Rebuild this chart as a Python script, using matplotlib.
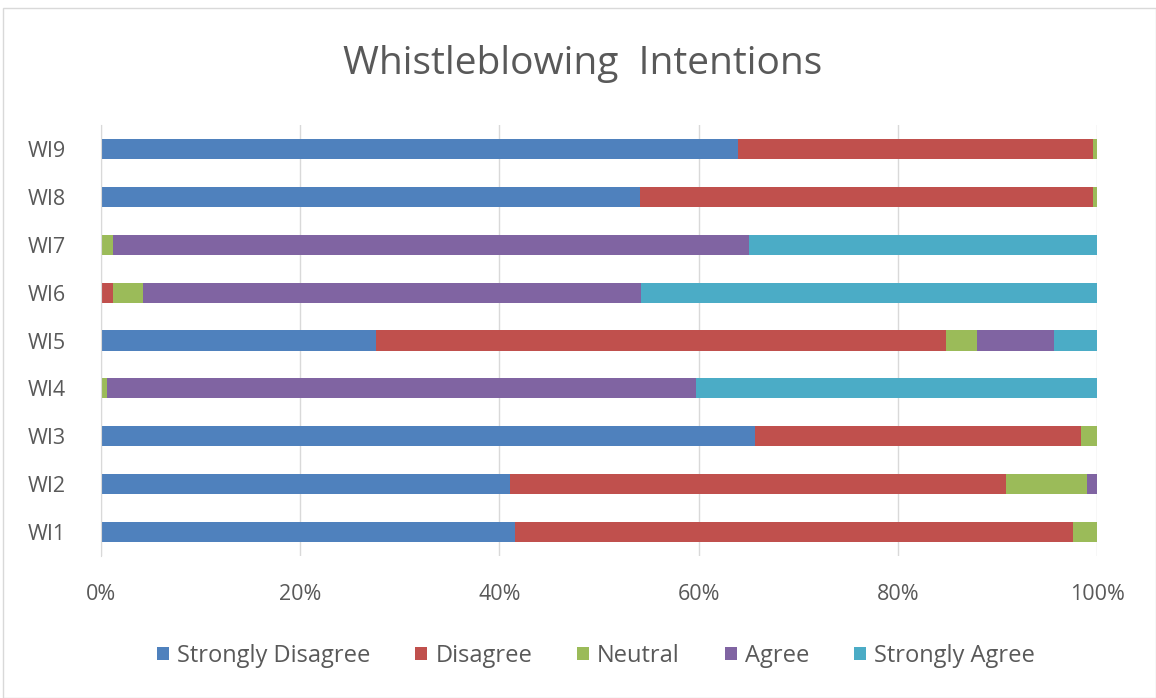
import numpy as np
import matplotlib.pyplot as plt
from matplotlib.patches import Rectangle

plt.rcParams['font.family'] = ['Open Sans', 'DejaVu Sans']

items = ['WI1', 'WI2', 'WI3', 'WI4', 'WI5', 'WI6', 'WI7', 'WI8', 'WI9']
categories = ['Strongly Disagree', 'Disagree', 'Neutral', 'Agree', 'Strongly Agree']
colors = ['#4F81BD', '#C0504D', '#9BBB59', '#8064A2', '#4BACC6']

# percent of responses per item, WI1..WI9
strongly_disagree = [41.6, 41.1, 65.7, 0.0, 27.6, 0.0, 0.0, 54.1, 64.0]
disagree = [56.0, 49.8, 32.7, 0.0, 57.2, 1.2, 0.0, 45.5, 35.6]
neutral = [2.4, 8.1, 1.6, 0.6, 3.1, 3.0, 1.2, 0.4, 0.4]
agree = [0.0, 1.0, 0.0, 59.1, 7.8, 50.0, 63.9, 0.0, 0.0]
strongly_agree = [0.0, 0.0, 0.0, 40.3, 4.3, 45.8, 34.9, 0.0, 0.0]

series = [strongly_disagree, disagree, neutral, agree, strongly_agree]

fig = plt.figure(figsize=(11.56, 6.98), dpi=100)
ax = fig.add_axes([0.0874, 0.2034, 0.8616, 0.6175])

y = np.arange(len(items))
left = np.zeros(len(items))
for name, vals, c in zip(categories, series, colors):
    vals = np.array(vals) / 100.0
    ax.barh(y, vals, left=left, height=0.42, color=c, label=name)
    left += vals

ax.set_xlim(0, 1)
ax.set_ylim(-0.5, len(items) - 0.5)
ax.set_yticks(y)
ax.set_yticklabels(items)
ax.set_xticks(np.arange(0, 1.01, 0.2))
ax.set_xticklabels(['%d%%' % round(v * 100) for v in np.arange(0, 1.01, 0.2)])
ax.tick_params(axis='both', length=0, labelsize=15.5, colors='#595959')
ax.tick_params(axis='x', pad=20)
ax.tick_params(axis='y', pad=53)
for t in ax.get_yticklabels():
    t.set_horizontalalignment('left')
ax.grid(axis='x', color='#D9D9D9', linewidth=1)
ax.set_axisbelow(True)
for s in ['top', 'right', 'bottom']:
    ax.spines[s].set_visible(False)
ax.spines['left'].set_color('#D9D9D9')

fig.text(0.504, 0.908, 'Whistleblowing  Intentions', ha='center', va='center',
         fontsize=28, color='#595959')

ax.legend(loc='center', bbox_to_anchor=(0.497, -0.232), ncol=5, frameon=False,
          fontsize=17, handlelength=0.5, handleheight=0.5, handletextpad=0.35,
          columnspacing=1.9, labelcolor='#595959')

fig.patches.append(Rectangle((0.003, 0.0), 0.997, 0.988, transform=fig.transFigure,
                             fill=False, edgecolor='#D9D9D9', linewidth=1))

fig.savefig('out.png', dpi=100)
